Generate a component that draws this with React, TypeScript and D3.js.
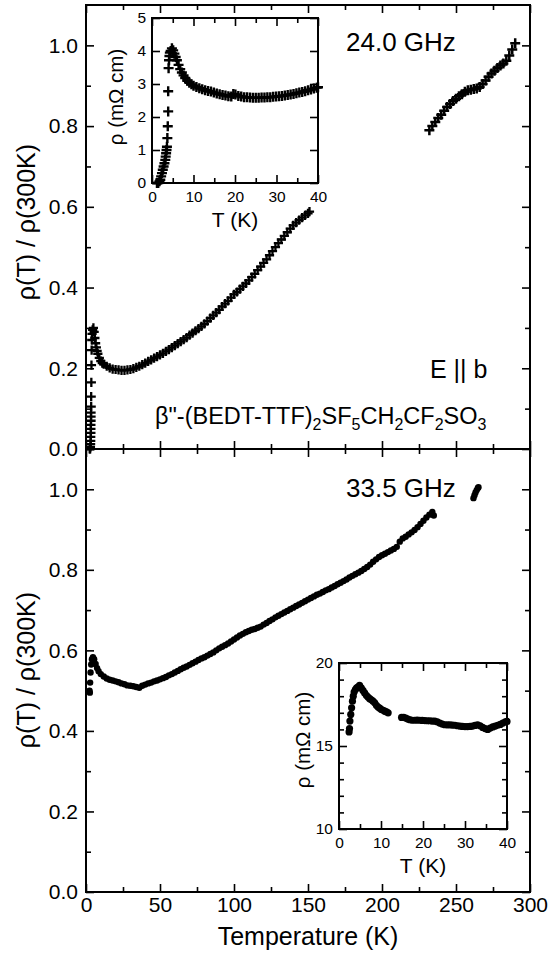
import React, { useEffect, useRef } from 'react';
import * as d3 from 'd3';

const FONT = '"Liberation Sans", Arial, Helvetica, sans-serif';

// 24.0 GHz, main panel: [T (K), rho(T)/rho(300K)]
const ghz24Low: [number, number][] = [
  [2.5, 0.0], [2.8, 0.0], [3.0, 0.005], [3.1, 0.012], [3.2, 0.02], [3.2, 0.03], [3.3, 0.04],
  [3.3, 0.05], [3.3, 0.06], [3.4, 0.07], [3.4, 0.08], [3.4, 0.09], [3.5, 0.105], [3.5, 0.13],
  [3.6, 0.165], [3.7, 0.208], [3.8, 0.245], [3.9, 0.27], [4.1, 0.285], [4.5, 0.295], [5.0, 0.3],
  [5.5, 0.29], [6.0, 0.275], [6.5, 0.262], [7.0, 0.252], [7.5, 0.243], [8.0, 0.236], [9, 0.226],
  [10, 0.218], [11, 0.213], [12, 0.21], [14, 0.205], [16, 0.201], [18, 0.198], [20, 0.197],
  [22, 0.196], [24, 0.195], [26, 0.195], [28, 0.196], [30, 0.197], [32, 0.199], [34, 0.202],
  [36, 0.205], [38, 0.209], [40, 0.213], [42, 0.217], [44, 0.221], [46, 0.225], [48, 0.229],
  [50, 0.233], [52, 0.237], [54, 0.242], [56, 0.246], [58, 0.251], [60, 0.256], [62, 0.261],
  [64, 0.266], [66, 0.271], [68, 0.276], [70, 0.282], [72, 0.287], [74, 0.293], [76, 0.298],
  [78, 0.304], [80, 0.31], [82, 0.317], [84, 0.324], [86, 0.331], [88, 0.338], [90, 0.345],
  [92, 0.353], [94, 0.36], [96, 0.367], [98, 0.375], [100, 0.383], [102, 0.389], [104, 0.396],
  [106, 0.403], [108, 0.41], [110, 0.418], [112, 0.426], [114, 0.434], [116, 0.443], [118, 0.452],
  [120, 0.461], [122, 0.47], [124, 0.48], [126, 0.49], [128, 0.5], [130, 0.51], [132, 0.519],
  [134, 0.528], [136, 0.537], [138, 0.546], [140, 0.554], [142, 0.561], [144, 0.567], [146, 0.573],
  [148, 0.579], [150, 0.584], [151, 0.588],
];
const ghz24High: [number, number][] = [
  [232, 0.79], [234, 0.8], [236, 0.81], [238, 0.82], [240, 0.828], [242, 0.838], [244, 0.847],
  [246, 0.855], [248, 0.862], [250, 0.868], [252, 0.874], [254, 0.879], [256, 0.885], [258, 0.889],
  [260, 0.89], [262, 0.892], [264, 0.893], [266, 0.897], [268, 0.904], [270, 0.913], [272, 0.922],
  [274, 0.93], [276, 0.937], [278, 0.944], [280, 0.95], [282, 0.955], [284, 0.962], [286, 0.975],
  [288, 0.99], [290, 1.005],
];
// 24.0 GHz inset: [T (K), rho (mOhm cm)]
const ghz24Inset: [number, number][] = [
  [1.2, 0], [1.5, 0], [1.8, 0.05], [2.0, 0.1], [2.2, 0.2], [2.4, 0.3], [2.6, 0.4], [2.8, 0.5],
  [3.0, 0.6], [3.2, 0.7], [3.3, 0.8], [3.4, 0.9], [3.5, 1.0], [3.6, 1.1], [3.7, 1.36], [3.8, 1.72],
  [3.9, 2.17], [3.9, 2.78], [4.0, 3.48], [4.1, 3.72], [4.2, 3.85], [4.3, 3.95], [4.5, 4.0],
  [4.8, 4.08], [5.1, 4.02], [5.4, 3.92], [5.7, 3.82], [6.0, 3.72], [6.4, 3.58], [6.8, 3.45],
  [7.2, 3.35], [7.6, 3.26], [8.0, 3.18], [8.5, 3.1], [9.0, 3.04], [9.5, 2.99], [10, 2.95],
  [10.7, 2.91], [11.4, 2.87], [12.1, 2.84], [12.8, 2.81], [13.5, 2.79], [14.2, 2.77], [14.9, 2.74],
  [15.6, 2.71], [16.3, 2.69], [17, 2.67], [17.7, 2.65], [18.4, 2.63], [19.1, 2.62], [19.6, 2.7],
  [20.1, 2.68], [20.8, 2.64], [21.5, 2.62], [22.2, 2.6], [22.9, 2.6], [23.6, 2.59], [24.3, 2.58],
  [25, 2.58], [25.7, 2.58], [26.4, 2.59], [27.1, 2.59], [27.8, 2.6], [28.5, 2.6], [29.2, 2.61],
  [29.9, 2.62], [30.6, 2.63], [31.3, 2.64], [32, 2.65], [32.7, 2.67], [33.4, 2.68], [34.1, 2.7],
  [34.8, 2.72], [35.5, 2.74], [36.2, 2.76], [36.9, 2.78], [37.6, 2.81], [38.3, 2.83], [39, 2.86],
  [39.7, 2.89], [40, 2.9],
];

// 33.5 GHz, main panel
const ghz335Main: [number, number][] = [
  [2.4, 0.5], [2.6, 0.495], [2.8, 0.52], [3.1, 0.545], [3.5, 0.565], [4, 0.578], [4.7, 0.583],
  [5.5, 0.578], [6.5, 0.566], [7.5, 0.556], [8.5, 0.548], [10, 0.541], [12, 0.535], [14, 0.53],
  [16, 0.527], [18, 0.525], [20, 0.523], [22, 0.521], [24, 0.518], [26, 0.516], [28, 0.513],
  [30, 0.512], [32, 0.511], [34, 0.509], [36, 0.507], [38, 0.512], [40, 0.515], [42, 0.518],
  [44, 0.52], [46, 0.523], [48, 0.525], [50, 0.528], [52, 0.531], [54, 0.534], [56, 0.538],
  [58, 0.541], [60, 0.545], [62, 0.549], [64, 0.553], [66, 0.557], [68, 0.56], [70, 0.564],
  [72, 0.568], [74, 0.572], [76, 0.576], [78, 0.58], [80, 0.583], [82, 0.587], [84, 0.591],
  [86, 0.595], [88, 0.6], [90, 0.605], [92, 0.609], [94, 0.613], [96, 0.617], [98, 0.622],
  [100, 0.627], [102, 0.632], [104, 0.637], [106, 0.641], [108, 0.645], [110, 0.648], [112, 0.651],
  [114, 0.653], [116, 0.656], [118, 0.659], [120, 0.664], [122, 0.668], [124, 0.673], [126, 0.677],
  [128, 0.682], [130, 0.686], [132, 0.69], [134, 0.694], [136, 0.698], [138, 0.702], [140, 0.706],
  [142, 0.71], [144, 0.714], [146, 0.718], [148, 0.722], [150, 0.726], [152, 0.73], [154, 0.734],
  [156, 0.738], [158, 0.741], [160, 0.745], [162, 0.749], [164, 0.752], [166, 0.756], [168, 0.76],
  [170, 0.764], [172, 0.768], [174, 0.772], [176, 0.776], [178, 0.781], [180, 0.785], [182, 0.789],
  [184, 0.793], [186, 0.797], [188, 0.802], [190, 0.807], [192, 0.813], [194, 0.82], [196, 0.826],
  [198, 0.832], [200, 0.836], [202, 0.84], [204, 0.844], [206, 0.848], [208, 0.852], [210, 0.857],
  [212, 0.87], [214, 0.878], [216, 0.882], [218, 0.888], [220, 0.893], [222, 0.899], [224, 0.906],
  [226, 0.914], [228, 0.922], [230, 0.93], [232, 0.937], [234, 0.944], [235, 0.935],
];
const ghz335Tail: [number, number][] = [
  [261.8, 0.978], [262.5, 0.985], [263.2, 0.992], [264, 0.998], [264.8, 1.003], [265.2, 1.005],
];
// 33.5 GHz inset
const ghz335Inset: [number, number][] = [
  [2.4, 15.85], [2.5, 16.05], [2.6, 16.5], [2.8, 16.9], [3.0, 17.3], [3.2, 17.7], [3.4, 18.0],
  [3.6, 18.25], [3.9, 18.4], [4.2, 18.5], [4.5, 18.55], [4.9, 18.65], [5.3, 18.5], [5.7, 18.35],
  [6.1, 18.2], [6.5, 18.05], [6.9, 17.95], [7.3, 17.85], [7.7, 17.78], [8.1, 17.7], [8.5, 17.6],
  [8.9, 17.45], [9.3, 17.35], [9.7, 17.28], [10.1, 17.2], [10.5, 17.15], [10.9, 17.1], [11.3, 17.05],
  [11.7, 17.0],
  [14.9, 16.72], [15.4, 16.72], [15.9, 16.68], [16.4, 16.62], [16.9, 16.58], [17.4, 16.55],
  [18, 16.55], [18.6, 16.56], [19.2, 16.55], [19.8, 16.54], [20.4, 16.53], [21, 16.52],
  [21.6, 16.52], [22.2, 16.5], [22.8, 16.5], [23.4, 16.45], [24, 16.38], [24.6, 16.32],
  [25.2, 16.28], [25.8, 16.27], [26.4, 16.27], [27, 16.26], [27.6, 16.25], [28.2, 16.22],
  [28.8, 16.2], [29.4, 16.18], [30, 16.17], [30.6, 16.17], [31.2, 16.18], [31.8, 16.2],
  [32.4, 16.24], [33, 16.28], [33.6, 16.22], [34.2, 16.12], [34.8, 16.05], [35.4, 16.0],
  [36, 16.08], [36.6, 16.15], [37.2, 16.2], [37.8, 16.25], [38.4, 16.3], [39, 16.38],
  [39.6, 16.45], [40, 16.48],
];

const mainXTicks = [0, 50, 100, 150, 200, 250, 300];
const mainXMinor = [25, 75, 125, 175, 225, 275];
const mainYTicks = [0, 0.2, 0.4, 0.6, 0.8, 1.0];
const mainYMinor = [0.1, 0.3, 0.5, 0.7, 0.9];
const insetXTicks = [0, 10, 20, 30, 40];
const insetXMinor = [5, 15, 25, 35];
const inset24YTicks = [0, 1, 2, 3, 4, 5];
const inset335YTicks = [10, 15, 20];
const inset335YMinor = [11, 12, 13, 14, 16, 17, 18, 19];

type Sel = d3.Selection<SVGGElement, unknown, null, undefined>;
type Lin = d3.ScaleLinear<number, number>;

interface FrameOpts {
  xMajor: number[]; xMinor: number[]; yMajor: number[]; yMinor: number[];
  xLabels: boolean; xFmt: (d: number) => string; yFmt: (d: number) => string;
  major: number; minor: number; fs: number; xPad: number; yPad: number; fw: number; tw: number;
}

function drawFrame(g: Sel, x: Lin, y: Lin, o: FrameOpts) {
  const [x0, x1] = x.range();
  const [y0, y1] = y.range();
  const none = () => '';
  const add = (axis: d3.Axis<d3.NumberValue>, tx: number, ty: number) => {
    const a = g.append('g')
      .attr('transform', `translate(${tx},${ty})`)
      .call(axis as any);
    a.select('.domain').remove();
    a.attr('font-size', o.fs).attr('font-family', FONT);
    a.selectAll('line').attr('stroke', '#000').attr('stroke-width', o.tw);
    a.selectAll('text').attr('fill', '#000');
  };
  add(d3.axisBottom(x).tickValues(o.xMajor).tickSize(-o.major).tickPadding(o.xPad)
    .tickFormat(o.xLabels ? (d) => o.xFmt(+d) : none), 0, y0);
  add(d3.axisBottom(x).tickValues(o.xMinor).tickSize(-o.minor).tickFormat(none), 0, y0);
  add(d3.axisTop(x).tickValues(o.xMajor).tickSize(-o.major).tickFormat(none), 0, y1);
  add(d3.axisTop(x).tickValues(o.xMinor).tickSize(-o.minor).tickFormat(none), 0, y1);
  add(d3.axisLeft(y).tickValues(o.yMajor).tickSize(-o.major).tickPadding(o.yPad)
    .tickFormat((d) => o.yFmt(+d)), x0, 0);
  add(d3.axisLeft(y).tickValues(o.yMinor).tickSize(-o.minor).tickFormat(none), x0, 0);
  add(d3.axisRight(y).tickValues(o.yMajor).tickSize(-o.major).tickFormat(none), x1, 0);
  add(d3.axisRight(y).tickValues(o.yMinor).tickSize(-o.minor).tickFormat(none), x1, 0);
  g.append('rect')
    .attr('x', x0).attr('y', y1)
    .attr('width', x1 - x0).attr('height', y0 - y1)
    .attr('fill', 'none').attr('stroke', '#000').attr('stroke-width', o.fw);
}

function plusMarks(g: Sel, data: [number, number][], x: Lin, y: Lin, s: number, sw: number) {
  g.append('g').selectAll('path').data(data).join('path')
    .attr('d', `M${-s},0H${s}M0,${-s}V${s}`)
    .attr('transform', (d) => `translate(${x(d[0])},${y(d[1])})`)
    .attr('fill', 'none').attr('stroke', '#000').attr('stroke-width', sw);
}

function dotMarks(g: Sel, data: [number, number][], x: Lin, y: Lin, r: number) {
  g.append('g').selectAll('circle').data(data).join('circle')
    .attr('cx', (d) => x(d[0])).attr('cy', (d) => y(d[1])).attr('r', r)
    .attr('fill', '#000');
}

function label(g: Sel, text: string, x: number, y: number, fs: number, anchor = 'start', rot = 0) {
  return g.append('text')
    .attr('transform', `translate(${x},${y})${rot ? ` rotate(${rot})` : ''}`)
    .attr('text-anchor', anchor).attr('font-family', FONT).attr('font-size', fs)
    .attr('fill', '#000').text(text);
}

export default function App() {
  const svgRef = useRef<SVGSVGElement>(null);

  useEffect(() => {
    if (!svgRef.current) return;
    document.body.style.margin = '0';
    const svg = d3.select(svgRef.current);
    svg.selectAll('*').remove();
    const g = svg.append('g') as unknown as Sel;

    const f1 = d3.format('.1f');
    const fd = d3.format('d');
    const mainOpts = {
      xMajor: mainXTicks, xMinor: mainXMinor, yMajor: mainYTicks, yMinor: mainYMinor,
      xFmt: fd, yFmt: f1, major: 8, minor: 5, fs: 21, xPad: 5, yPad: 8, fw: 2, tw: 1.6,
    };
    const insetOpts = {
      xMajor: insetXTicks, xMinor: insetXMinor, xLabels: true, xFmt: fd, yFmt: fd,
      major: 8, minor: 5, fs: 15.5, xPad: 8, yPad: 6, fw: 2, tw: 1.6,
    };

    const x = d3.scaleLinear().domain([0, 300]).range([86, 530]);
    const yTop = d3.scaleLinear().domain([0, 1.1]).range([449, 5]);
    const yBot = d3.scaleLinear().domain([0, 1.1]).range([892, 449]);

    // top panel: 24.0 GHz
    drawFrame(g, x, yTop, { ...mainOpts, xLabels: false });
    plusMarks(g, ghz24Low, x, yTop, 4.6, 2.3);
    plusMarks(g, ghz24High, x, yTop, 5, 2.5);
    label(g, 'ρ(T) / ρ(300K)', 35, 222, 25, 'middle', -90);
    label(g, '24.0 GHz', 346, 51, 26);
    label(g, 'E || b', 430, 378, 25);
    const formula = label(g, '', 155, 424, 23.5);
    const parts: [string, boolean][] = [
      ['β"-(BEDT-TTF)', false], ['2', true], ['SF', false], ['5', true], ['CH', false],
      ['2', true], ['CF', false], ['2', true], ['SO', false], ['3', true],
    ];
    let sub = false;
    parts.forEach(([t, s]) => {
      const dy = s === sub ? 0 : s ? 6 : -6;
      formula.append('tspan').attr('dy', dy).attr('font-size', s ? 16 : 23.5).text(t);
      sub = s;
    });

    // top inset
    const xi1 = d3.scaleLinear().domain([0, 40]).range([152, 318]);
    const yi1 = d3.scaleLinear().domain([0, 5]).range([183, 18]);
    g.append('rect').attr('x', 152).attr('y', 18).attr('width', 166).attr('height', 165).attr('fill', '#fff');
    plusMarks(g, ghz24Inset, xi1, yi1, 5, 2.4);
    drawFrame(g, xi1, yi1, { ...insetOpts, yMajor: inset24YTicks, yMinor: [] });
    label(g, 'T (K)', 235, 227, 21, 'middle');
    label(g, 'ρ (mΩ cm)', 123, 97, 20.5, 'middle', -90);

    // bottom panel: 33.5 GHz
    drawFrame(g, x, yBot, { ...mainOpts, xLabels: true });
    dotMarks(g, ghz335Main, x, yBot, 3.2);
    dotMarks(g, ghz335Tail, x, yBot, 3.2);
    label(g, 'ρ(T) / ρ(300K)', 35, 670, 25, 'middle', -90);
    label(g, '33.5 GHz', 346, 497, 26);
    label(g, 'Temperature (K)', 308, 945, 25, 'middle');

    // bottom inset
    const xi2 = d3.scaleLinear().domain([0, 40]).range([339, 507]);
    const yi2 = d3.scaleLinear().domain([10, 20]).range([829, 663]);
    dotMarks(g, ghz335Inset, xi2, yi2, 3.6);
    drawFrame(g, xi2, yi2, { ...insetOpts, yMajor: inset335YTicks, yMinor: inset335YMinor });
    label(g, 'T (K)', 423, 873, 21, 'middle');
    label(g, 'ρ (mΩ cm)', 310, 740, 20.5, 'middle', -90);
  }, []);

  return (
    <svg
      ref={svgRef}
      width={548}
      height={958}
      viewBox="0 0 548 958"
      style={{ display: 'block', background: '#fff' }}
    />
  );
}
